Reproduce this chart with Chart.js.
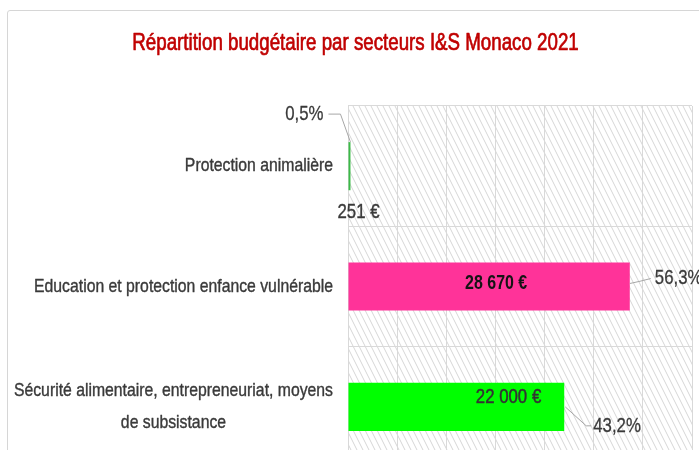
<!DOCTYPE html>
<html><head><meta charset="utf-8">
<script src="https://cdn.jsdelivr.net/npm/chart.js@4"></script>
<style>
html,body{margin:0;padding:0;background:#fff;overflow:hidden;width:699px;height:450px;}
#frame{position:absolute;left:7px;top:10px;width:720px;height:520px;border:1.5px solid #d6d6d6;border-radius:3px;box-sizing:border-box;}
canvas{position:absolute;left:0;top:0;}
</style></head><body>
<div id="frame"></div>
<canvas id="c" width="699" height="480"></canvas>
<script>
const chartTitle = 'Répartition budgétaire par secteurs I&S Monaco 2021';
const categories = ['Protection animalière', 'Education et protection enfance vulnérable', ['Sécurité alimentaire, entrepreneuriat, moyens', 'de subsistance']];
const amounts = [251, 28670, 22000];
const amountLabels = ['251 €', '28 670 €', '22 000 €'];
const barColors = ['#3cba48', '#ff3399', '#00ff00'];
const xTicks = [0, 5000, 10000, 15000, 20000, 25000, 30000, 35000];

const FONT = '"Liberation Sans", Arial, sans-serif';
const TEXT = '#3a3a3a';
const total = amounts.reduce((a, b) => a + b, 0);
const percents = amounts.map(v => (v / total * 100).toFixed(1).replace('.', ',') + '%');

function narrowText(ctx, s, x, y, align, k, thick) {
  const w = ctx.measureText(s).width * k;
  let left = x;
  if (align === 'center') left = x - w / 2;
  else if (align === 'right') left = x - w;
  ctx.textAlign = 'left';
  ctx.fillText(s, left, y, w);
  if (thick) {
    ctx.save();
    ctx.strokeStyle = ctx.fillStyle;
    ctx.lineWidth = thick;
    ctx.lineJoin = 'round';
    ctx.strokeText(s, left, y, w);
    ctx.restore();
  }
  return w;
}

const hatchPlugin = {
  id: 'hatch',
  beforeDraw(chart) {
    const { ctx, chartArea: a } = chart;
    const t = document.createElement('canvas');
    t.width = 6; t.height = 12;
    const g = t.getContext('2d');
    g.strokeStyle = '#d6d6d6'; g.lineWidth = 1;
    g.beginPath();
    for (const o of [-6, 0, 6]) { g.moveTo(o - 1, -2); g.lineTo(o + 7, 14); }
    g.stroke();
    ctx.save();
    ctx.fillStyle = ctx.createPattern(t, 'repeat');
    ctx.fillRect(a.left, a.top, a.right - a.left, a.bottom - a.top);
    ctx.restore();
  }
};

const labelPlugin = {
  id: 'labels',
  afterDatasetsDraw(chart) {
    const { ctx, chartArea: a } = chart;
    const ys = chart.scales.y;
    const bars = chart.getDatasetMeta(0).data;
    ctx.save();
    ctx.textBaseline = 'middle';
    // title
    ctx.font = '24px ' + FONT;
    ctx.fillStyle = '#c00000';
    narrowText(ctx, chartTitle, chart.width / 2 + 6, 43, 'center', 0.78, 0.7);

    ctx.font = '19px ' + FONT;
    ctx.fillStyle = TEXT;
    const KC = 0.83;
    // category labels
    const rx = a.left - 15;
    categories.forEach((c, i) => {
      const y = ys.getPixelForValue(i);
      if (Array.isArray(c)) {
        const w = Math.max(...c.map(s => ctx.measureText(s).width)) * KC;
        const cx = rx - w / 2;
        const lh = 32;
        c.forEach((s, k) => narrowText(ctx, s, cx, y + (k - (c.length - 1) / 2) * lh, 'center', KC, 0.4));
      } else {
        narrowText(ctx, c, rx, y, 'right', KC, 0.4);
      }
    });
    const KN = 0.8;
    ctx.font = '21px ' + FONT;
    ctx.strokeStyle = '#a6a6a6';
    ctx.lineWidth = 1;
    // index 0: small bar
    {
      const b = bars[0];
      const top = b.y - b.height / 2, bot = b.y + b.height / 2;
      narrowText(ctx, amountLabels[0], b.base + 10, bot + 22, 'center', KN, 0.4);
      ctx.beginPath();
      ctx.moveTo(b.x, top);
      ctx.lineTo(b.x - 10, top - 28);
      ctx.lineTo(b.x - 22, top - 28);
      ctx.stroke();
      narrowText(ctx, percents[0], b.x - 27, top - 28, 'right', KN, 0.3);
    }
    // index 1
    {
      const b = bars[1];
      ctx.font = 'bold 21px ' + FONT;
      ctx.fillStyle = '#141414';
      narrowText(ctx, amountLabels[1], (b.base + b.x) / 2 + 7, b.y - 3, 'center', 0.76);
      ctx.font = '21px ' + FONT;
      ctx.fillStyle = TEXT;
      ctx.beginPath();
      ctx.moveTo(b.x, b.y - 3);
      ctx.quadraticCurveTo(b.x + 10, b.y - 5, b.x + 21, b.y - 8);
      ctx.stroke();
      narrowText(ctx, percents[1], b.x + 25, b.y - 8, 'left', KN, 0.3);
    }
    // index 2
    {
      const b = bars[2];
      ctx.fillStyle = '#333333';
      narrowText(ctx, amountLabels[2], b.x - 23, b.y - 10, 'right', KN, 0.5);
      ctx.fillStyle = TEXT;
      ctx.beginPath();
      ctx.moveTo(b.x + 1, b.y);
      ctx.lineTo(b.x + 22, b.y + 19);
      ctx.lineTo(b.x + 27, b.y + 19);
      ctx.stroke();
      narrowText(ctx, percents[2], b.x + 29, b.y + 19, 'left', KN, 0.3);
    }
    ctx.restore();
  }
};

new Chart(document.getElementById('c'), {
  type: 'bar',
  data: {
    labels: categories,
    datasets: [{
      data: amounts,
      backgroundColor: barColors,
      borderWidth: 0,
      categoryPercentage: 1,
      barPercentage: 0.4
    }]
  },
  options: {
    indexAxis: 'y',
    responsive: false,
    animation: false,
    devicePixelRatio: 1,
    layout: { padding: { left: 20, right: 7, top: 106, bottom: 13 } },
    plugins: {
      legend: { display: false },
      tooltip: { enabled: false },
      title: { display: false, text: chartTitle }
    },
    scales: {
      x: {
        min: xTicks[0], max: xTicks[xTicks.length - 1],
        afterBuildTicks: s => { s.ticks = xTicks.map(v => ({ value: v })); },
        ticks: { display: false },
        grid: { color: '#d9d9d9', drawTicks: false },
        border: { display: false }
      },
      y: {
        afterFit: s => { s.width = 328; },
        ticks: { display: false },
        grid: { color: '#d9d9d9', drawTicks: false, offset: true },
        border: { display: false }
      }
    }
  },
  plugins: [hatchPlugin, labelPlugin]
});
</script>
</body></html>
